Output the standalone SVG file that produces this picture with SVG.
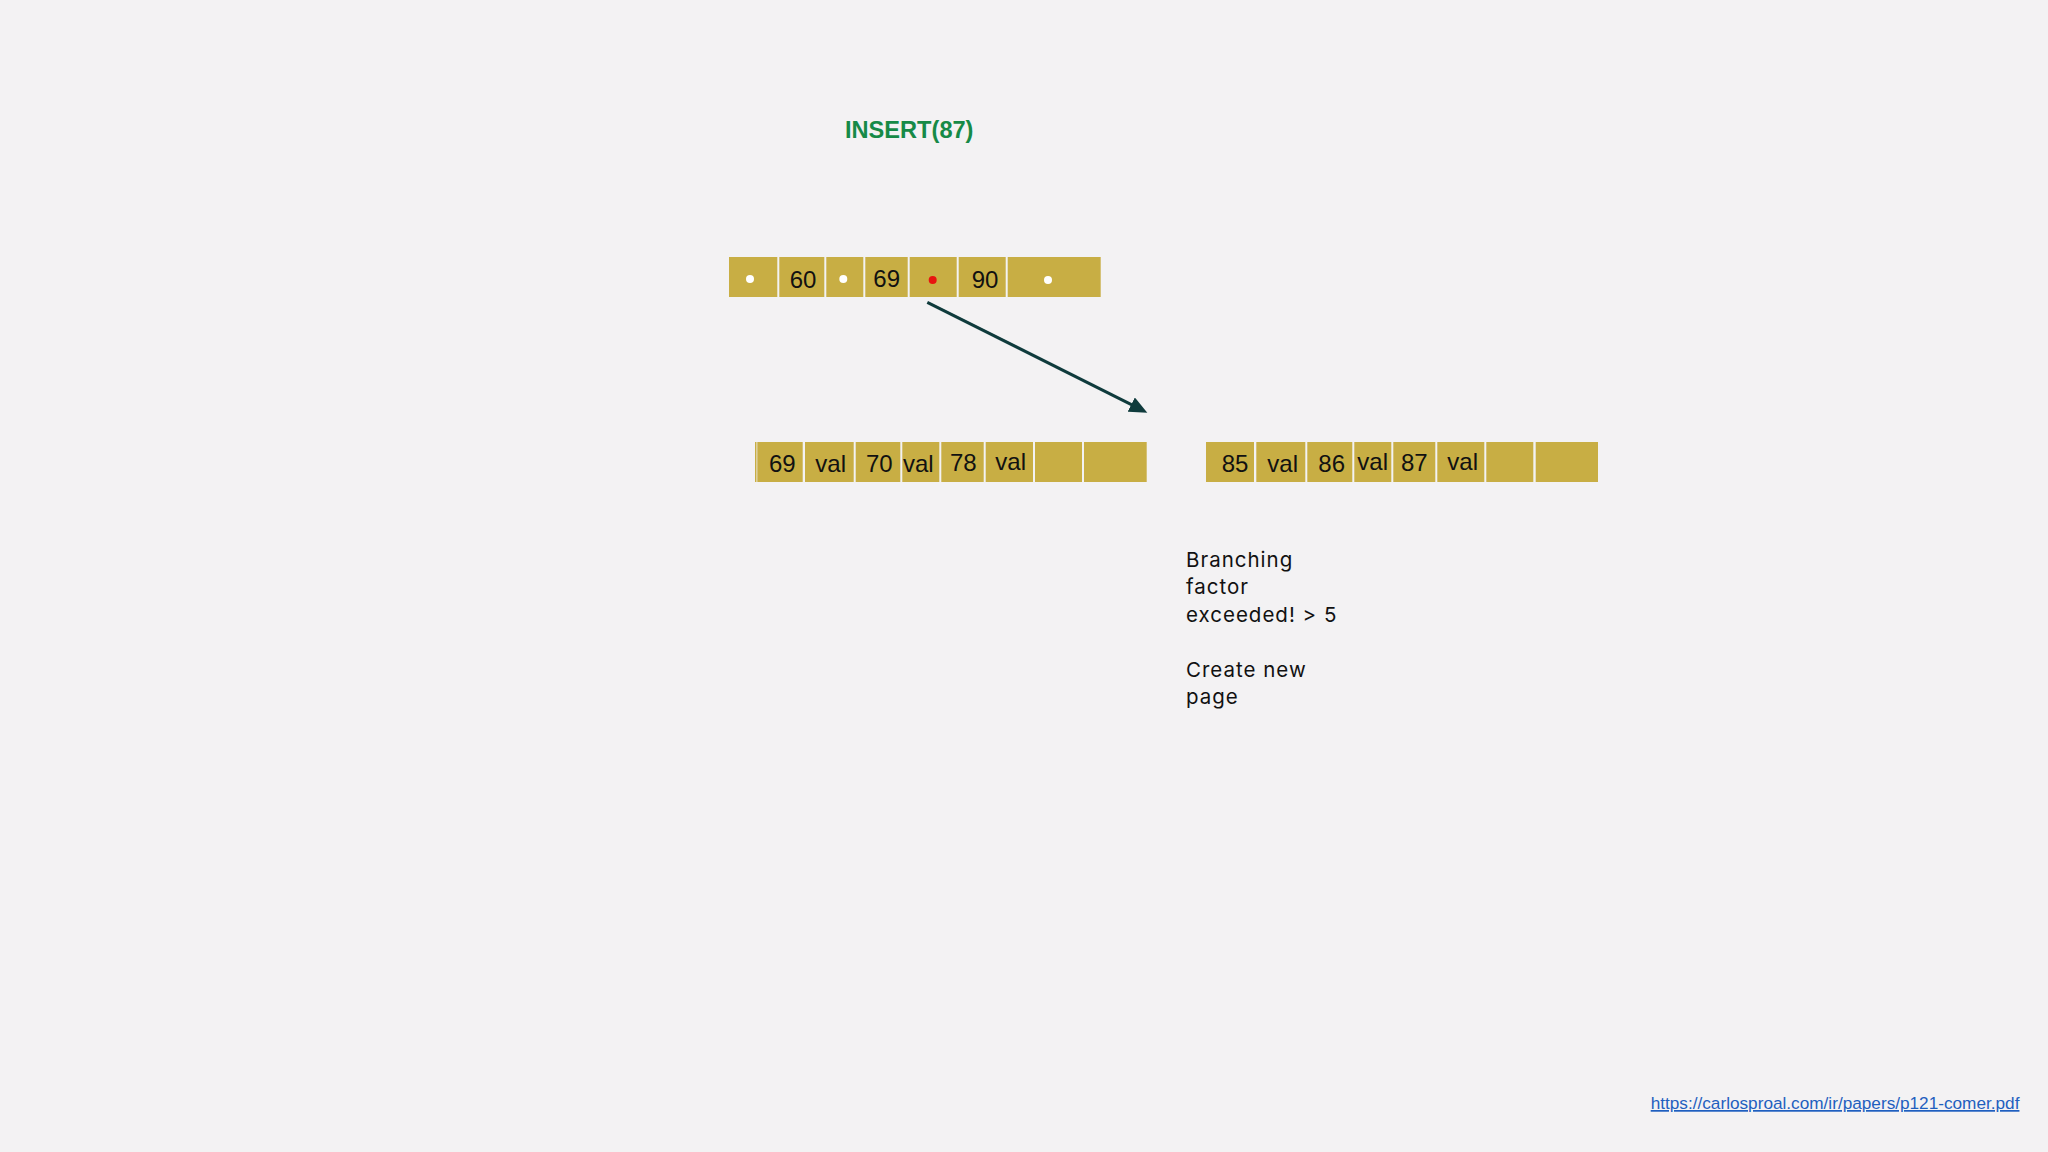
<svg xmlns="http://www.w3.org/2000/svg" width="2048" height="1152" viewBox="0 0 2048 1152">
  <style>
    .cell { fill: #C8AE44; }
    .ct { font-family: "Liberation Sans", Arial, sans-serif; font-size: 24px; fill: #111; text-anchor: middle; }
    .dotw { fill: #FFFFFF; }
    .dotr { fill: #E8140F; }
    .note { font-family: Inter, "Liberation Sans", sans-serif; font-size: 20.5px; letter-spacing: 1px; fill: #111; }
    .title { font-family: "Liberation Sans", Arial, sans-serif; font-size: 23.6px; font-weight: bold; fill: #168A47; }
    .link { font-family: "Liberation Sans", Arial, sans-serif; font-size: 17.2px; fill: #1F5FBF; text-decoration: underline; }
    .conn { stroke: #0F3B3C; stroke-width: 3; fill: none; }
  </style>
  <defs>
    <marker id="arr" markerUnits="userSpaceOnUse" markerWidth="20" markerHeight="16" refX="8" refY="8" orient="auto">
      <path d="M0,0 L18,8 L0,16 z" fill="#0F3B3C"/>
    </marker>
  </defs>
  <rect x="0" y="0" width="2048" height="1152" fill="#F3F2F3"/>

  <g id="title">
    <text class="title" x="845" y="138">INSERT(87)</text>
  </g>

  <g id="root-node">
    <rect class="cell" x="729" y="257" width="48.3" height="40"/>
    <rect class="cell" x="779.3" y="257" width="45" height="40"/>
    <rect class="cell" x="826.3" y="257" width="37" height="40"/>
    <rect class="cell" x="865.3" y="257" width="42.4" height="40"/>
    <rect class="cell" x="909.7" y="257" width="47" height="40"/>
    <rect class="cell" x="958.7" y="257" width="47" height="40"/>
    <rect class="cell" x="1007.7" y="257" width="93" height="40"/>
    <circle class="dotw" cx="750" cy="279" r="4"/>
    <text class="ct" x="803" y="288">60</text>
    <circle class="dotw" cx="843.3" cy="279" r="4"/>
    <text class="ct" x="886.7" y="287">69</text>
    <circle class="dotr" cx="932.7" cy="280" r="4"/>
    <text class="ct" x="985" y="288">90</text>
    <circle class="dotw" cx="1048" cy="280" r="4"/>
  </g>

  <g id="left-leaf">
    <rect class="cell" x="755" y="442" width="1.5" height="40"/>
    <rect class="cell" x="757.3" y="442" width="45.4" height="40"/>
    <rect class="cell" x="805" y="442" width="48.7" height="40"/>
    <rect class="cell" x="855.7" y="442" width="44.6" height="40"/>
    <rect class="cell" x="902.3" y="442" width="37" height="40"/>
    <rect class="cell" x="941.3" y="442" width="42.4" height="40"/>
    <rect class="cell" x="985.7" y="442" width="47.3" height="40"/>
    <rect class="cell" x="1035" y="442" width="47" height="40"/>
    <rect class="cell" x="1084" y="442" width="62.7" height="40"/>
    <text class="ct" x="782.3" y="472">69</text>
    <text class="ct" x="830.7" y="472">val</text>
    <text class="ct" x="879.3" y="472">70</text>
    <text class="ct" x="918.3" y="472">val</text>
    <text class="ct" x="963.3" y="471">78</text>
    <text class="ct" x="1010.7" y="470">val</text>
  </g>

  <g id="right-leaf">
    <rect class="cell" x="1206" y="442" width="48" height="40"/>
    <rect class="cell" x="1256.3" y="442" width="49" height="40"/>
    <rect class="cell" x="1307.3" y="442" width="45" height="40"/>
    <rect class="cell" x="1354.3" y="442" width="37" height="40"/>
    <rect class="cell" x="1393.3" y="442" width="42" height="40"/>
    <rect class="cell" x="1437.3" y="442" width="47" height="40"/>
    <rect class="cell" x="1486.3" y="442" width="47" height="40"/>
    <rect class="cell" x="1535.7" y="442" width="62.3" height="40"/>
    <text class="ct" x="1235" y="472">85</text>
    <text class="ct" x="1282.7" y="472">val</text>
    <text class="ct" x="1331.7" y="472">86</text>
    <text class="ct" x="1372.7" y="470">val</text>
    <text class="ct" x="1414.3" y="471">87</text>
    <text class="ct" x="1462.7" y="470">val</text>
  </g>

  <g id="connectors">
    <line class="conn" x1="927.3" y1="302.3" x2="1138.4" y2="408.2" marker-end="url(#arr)"/>
  </g>

  <g id="note">
    <text class="note" x="1186" y="567">Branching</text>
    <text class="note" x="1186" y="594.4">factor</text>
    <text class="note" x="1186" y="621.8">exceeded! &gt; 5</text>
    <text class="note" x="1186" y="676.6">Create new</text>
    <text class="note" x="1186" y="704">page</text>
  </g>

  <g id="source-link">
    <text class="link" x="1650.7" y="1109">https://carlosproal.com/ir/papers/p121-comer.pdf</text>
  </g>
</svg>
